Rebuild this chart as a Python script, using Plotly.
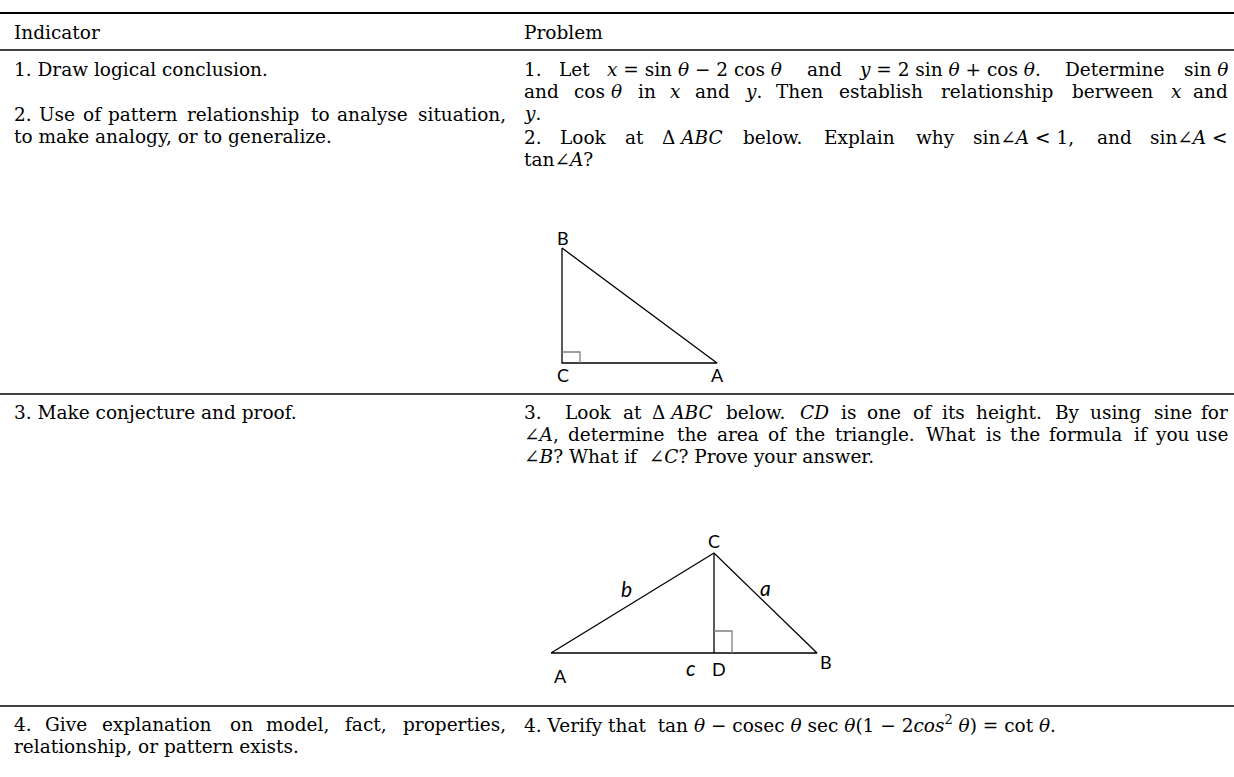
"""Indicator / problem table with two triangle sketches, drawn on a pixel-coordinate canvas."""
import re

import plotly.graph_objects as go

W, H = 1234, 777
SERIF = "DejaVu Serif"
SANS = "Lato"
FS = 18.5
SP = "\u00a0"  # non-breaking space, keeps wide math spacing

# ---- table text -------------------------------------------------------------
headers = ["Indicator", "Problem"]

ind_1 = ["1. Draw logical conclusion."]
ind_2 = [["2.", "Use", "of", "pattern", "relationship", "to", "analyse", "situation,"],
         "to make analogy, or to generalize."]
ind_3 = ["3. Make conjecture and proof."]
ind_4 = [["4.", "Give", "explanation", "on", "model,", "fact,", "properties,"],
         "relationship, or pattern exists."]

th = "<i>θ</i>"
eq, mi, pl, lt = f"{SP}={SP}", f"{SP}−{SP}", f"{SP}+{SP}", f"{SP}<{SP}"
prob_1 = [["1.", "Let", f"<i>x</i>{eq}sin{SP}{th}{mi}2{SP}cos{SP}{th}", "and",
           f"<i>y</i>{eq}2{SP}sin{SP}{th}{pl}cos{SP}{th}.", "Determine", f"sin{SP}{th}"],
          ["and", f"cos{SP}{th}", "in", "<i>x</i>", "and", "<i>y</i>.", "Then", "establish", "relationship",
           "berween", "<i>x</i>", "and"],
          "<i>y</i>."]
prob_2 = [["2.", "Look", "at", f"Δ{SP}<i>ABC</i>", "below.", "Explain", "why", f"sin∠<i>A</i>{lt}1,", "and",
           f"sin∠<i>A</i>{SP}<"],
          "tan∠<i>A</i>?"]
prob_3 = [[f"3.{SP}{SP}", "Look", "at", f"Δ{SP}<i>ABC</i>", "below.", "<i>CD</i>", "is", "one", "of", "its",
           "height.", "By", "using", "sine", "for"],
          ["∠<i>A</i>,", "determine", "the", "area", "of", "the", "triangle.", "What", "is", "the", "formula", "if",
           "you", "use"],
          f"∠<i>B</i>? What if{SP} ∠<i>C</i>? Prove your answer."]
prob_4 = [f"4. Verify that{SP} tan{SP}{th} − cosec{SP}{th}{SP}sec{SP}{th}(1 − 2<i>cos</i><sup>2</sup>{SP}{th})"
          f" = cot{SP}{th}."]

# ---- triangle sketches ------------------------------------------------------
tri1_x = [562, 562, 717, 562]          # B, C, A, B
tri1_y = [248, 363, 363, 248]
tri1_box_x = [562, 580, 580]
tri1_box_y = [352, 352, 363]
tri1_labels = ["B", "C", "A"]
tri1_label_x = [563, 563, 717]
tri1_label_y = [238, 375, 375]

tri2_x = [551, 714, 817, 551]          # A, C, B, A
tri2_y = [653, 553, 653, 653]
tri2_alt_x = [714, 714]                # C -> D
tri2_alt_y = [553, 653]
tri2_box_x = [714, 732, 732]
tri2_box_y = [631, 631, 653]
tri2_labels = ["C", "<i>b</i>", "<i>a</i>", "<i>c</i>", "D", "B", "A"]
tri2_label_x = [714, 626, 765, 691, 719, 826, 560]
tri2_label_y = [541, 588, 587, 667, 669, 662, 676]

# approximate DejaVu Serif advance widths (1/1000 em)
ADV = dict(zip("abcdefghijklmnopqrstuvwxyz",
               [596, 640, 560, 640, 592, 370, 640, 644, 320, 310, 606, 320, 948, 644, 602, 640, 640, 478,
                513, 402, 644, 565, 856, 564, 565, 527]))
ADV.update(zip("ABCDEFGHIJKLMNOPQRSTUVWXYZ",
               [722, 735, 765, 802, 730, 694, 799, 872, 395, 401, 747, 664, 1024, 875, 820, 673, 820, 753,
                685, 667, 843, 722, 1028, 712, 660, 695]))
ADV.update({" ": 318, SP: 318, ".": 318, ",": 318, "?": 531, "(": 390, ")": 390, "=": 838, "+": 838,
            "−": 838, "<": 838, "θ": 602, "Δ": 722, "∠": 838})
for d in "0123456789":
    ADV[d] = 636


def width(s, size=FS):
    plain = re.sub(r"<[^>]+>", "", s)
    return sum(ADV.get(ch, 600) for ch in plain) * size / 1000 * 1.05


fig = go.Figure()
notes = []


def put(text, x, y, anchor="left", font=SERIF, size=FS):
    notes.append(dict(x=x, y=y, text=text, showarrow=False, xanchor=anchor, yanchor="middle",
                      font=dict(family=font, size=size, color="black")))


def line(item, x0, x1, y):
    # a list of words is justified between x0 and x1, a plain string is left aligned
    if isinstance(item, str):
        put(item, x0, y)
        return
    total = sum(width(t) for t in item)
    gap = (x1 - x0 - total) / (len(item) - 1)
    x = x0
    for t in item[:-1]:
        put(t, x, y)
        x += width(t) + gap
    put(item[-1], x1, y, anchor="right")


C1, C1R, C2, C2R = 12, 508, 522, 1230

put(headers[0], C1, 32)
put(headers[1], C2, 32)

line(ind_1[0], C1, C1R, 69)
line(ind_2[0], C1, C1R, 114)
line(ind_2[1], C1, C1R, 136)
line(ind_3[0], C1, C1R, 412)
line(ind_4[0], C1, C1R, 724)
line(ind_4[1], C1, C1R, 746)

for item, y in zip(prob_1, [69, 91, 113]):
    line(item, C2, C2R, y)
for item, y in zip(prob_2, [137, 159]):
    line(item, C2, C2R, y)
for item, y in zip(prob_3, [412, 434, 456]):
    line(item, C2, C2R, y)
line(prob_4[0], C2, C2R, 724)

for t, x, y in zip(tri1_labels, tri1_label_x, tri1_label_y):
    put(t, x, y, anchor="center", font=SANS, size=18)
for t, x, y in zip(tri2_labels, tri2_label_x, tri2_label_y):
    put(t, x, y, anchor="center", font=SANS, size=21 if "<i>" in t else 18)

# triangles
for xs, ys, col in [(tri1_x, tri1_y, "black"), (tri1_box_x, tri1_box_y, "#7f7f7f"),
                    (tri2_x, tri2_y, "black"), (tri2_alt_x, tri2_alt_y, "black"),
                    (tri2_box_x, tri2_box_y, "#7f7f7f")]:
    fig.add_trace(go.Scatter(x=xs, y=ys, mode="lines", line=dict(color=col, width=1.3),
                             hoverinfo="skip"))

# table rules
for y, w in [(13, 2.2), (50, 1.6), (394, 1.6), (706, 1.6)]:
    fig.add_shape(type="line", x0=0, x1=W, y0=y, y1=y, line=dict(color="black", width=w))

fig.update_layout(
    width=W, height=H,
    margin=dict(l=0, r=0, t=0, b=0),
    paper_bgcolor="white", plot_bgcolor="white",
    showlegend=False,
    annotations=notes,
    xaxis=dict(range=[0, W], visible=False, fixedrange=True),
    yaxis=dict(range=[H, 0], visible=False, fixedrange=True),
)

fig.write_html("out.html", config={"displayModeBar": False},
               post_script="document.body.style.margin='0px';")
